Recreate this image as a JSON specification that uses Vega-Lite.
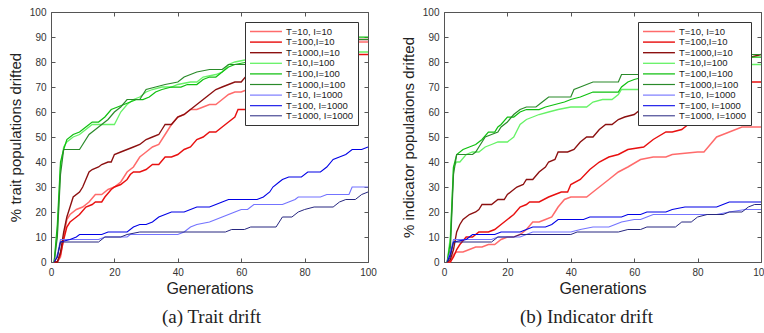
{
"$schema":"https://vega.github.io/schema/vega-lite/v6.json",
"padding":{"left":7,"top":6,"right":0,"bottom":0},
"background":"white",
"config":{
 "font":"Liberation Sans",
 "view":{"stroke":"#555","strokeWidth":1},
 "axis":{"grid":false,"domain":false,"tickColor":"#555","tickSize":-4,"labelFontSize":10,"labelColor":"#333","labelPadding":9,"labelFont":"Liberation Sans","titleFont":"Liberation Sans","titleFontWeight":"normal","titleColor":"#222","labelFlush":false},
 "legend":{"orient":"top-right","offset":10,"fillColor":"white","strokeColor":"#333","padding":4,"symbolType":"M-1,0H6.1","symbolSize":81,"labelFont":"Liberation Sans","labelFontSize":9.5,"labelColor":"#222","labelOffset":26,"rowPadding":0.6,"symbolStrokeWidth":1.5},
 "title":{"font":"Liberation Serif","fontSize":19,"fontWeight":"normal","color":"#222","orient":"bottom","anchor":"middle","offset":12}
},
"datasets":{
"a":[
{"s":"T=10, I=10","g":1,"v":0},{"s":"T=10, I=10","g":2,"v":0},{"s":"T=10, I=10","g":3,"v":2},{"s":"T=10, I=10","g":4,"v":10},{"s":"T=10, I=10","g":5,"v":17},{"s":"T=10, I=10","g":6,"v":19},{"s":"T=10, I=10","g":8,"v":21},{"s":"T=10, I=10","g":10,"v":22},{"s":"T=10, I=10","g":12,"v":24},{"s":"T=10, I=10","g":14,"v":27},{"s":"T=10, I=10","g":16,"v":27},{"s":"T=10, I=10","g":18,"v":29},{"s":"T=10, I=10","g":20,"v":30},{"s":"T=10, I=10","g":22,"v":32},{"s":"T=10, I=10","g":24,"v":36},{"s":"T=10, I=10","g":26,"v":38},{"s":"T=10, I=10","g":28,"v":42},{"s":"T=10, I=10","g":30,"v":44},{"s":"T=10, I=10","g":32,"v":46},{"s":"T=10, I=10","g":34,"v":47},{"s":"T=10, I=10","g":36,"v":51},{"s":"T=10, I=10","g":38,"v":55},{"s":"T=10, I=10","g":40,"v":58},{"s":"T=10, I=10","g":42,"v":59},{"s":"T=10, I=10","g":44,"v":61},{"s":"T=10, I=10","g":46,"v":61},{"s":"T=10, I=10","g":48,"v":62},{"s":"T=10, I=10","g":50,"v":63},{"s":"T=10, I=10","g":52,"v":63},{"s":"T=10, I=10","g":54,"v":65},{"s":"T=10, I=10","g":56,"v":67},{"s":"T=10, I=10","g":58,"v":68},{"s":"T=10, I=10","g":60,"v":68},{"s":"T=10, I=10","g":62,"v":69},{"s":"T=10, I=10","g":65,"v":71},{"s":"T=10, I=10","g":70,"v":74},{"s":"T=10, I=10","g":75,"v":77},{"s":"T=10, I=10","g":80,"v":80},{"s":"T=10, I=10","g":85,"v":83},{"s":"T=10, I=10","g":90,"v":85},{"s":"T=10, I=10","g":95,"v":87},{"s":"T=10, I=10","g":97,"v":88},{"s":"T=10, I=10","g":100,"v":88},
{"s":"T=100,I=10","g":1,"v":0},{"s":"T=100,I=10","g":2,"v":0},{"s":"T=100,I=10","g":3,"v":3},{"s":"T=100,I=10","g":4,"v":9},{"s":"T=100,I=10","g":5,"v":14},{"s":"T=100,I=10","g":6,"v":16},{"s":"T=100,I=10","g":7,"v":17},{"s":"T=100,I=10","g":9,"v":19},{"s":"T=100,I=10","g":11,"v":22},{"s":"T=100,I=10","g":13,"v":23},{"s":"T=100,I=10","g":14,"v":24},{"s":"T=100,I=10","g":16,"v":24},{"s":"T=100,I=10","g":17,"v":26},{"s":"T=100,I=10","g":19,"v":29},{"s":"T=100,I=10","g":20,"v":30},{"s":"T=100,I=10","g":22,"v":31},{"s":"T=100,I=10","g":24,"v":33},{"s":"T=100,I=10","g":25,"v":35},{"s":"T=100,I=10","g":26,"v":36},{"s":"T=100,I=10","g":28,"v":36},{"s":"T=100,I=10","g":30,"v":37},{"s":"T=100,I=10","g":32,"v":39},{"s":"T=100,I=10","g":34,"v":39},{"s":"T=100,I=10","g":36,"v":42},{"s":"T=100,I=10","g":38,"v":42},{"s":"T=100,I=10","g":40,"v":43},{"s":"T=100,I=10","g":42,"v":45},{"s":"T=100,I=10","g":44,"v":46},{"s":"T=100,I=10","g":46,"v":49},{"s":"T=100,I=10","g":48,"v":50},{"s":"T=100,I=10","g":50,"v":52},{"s":"T=100,I=10","g":52,"v":52},{"s":"T=100,I=10","g":54,"v":54},{"s":"T=100,I=10","g":56,"v":56},{"s":"T=100,I=10","g":58,"v":58},{"s":"T=100,I=10","g":59,"v":61},{"s":"T=100,I=10","g":63,"v":61},{"s":"T=100,I=10","g":68,"v":65},{"s":"T=100,I=10","g":75,"v":70},{"s":"T=100,I=10","g":80,"v":73},{"s":"T=100,I=10","g":85,"v":76},{"s":"T=100,I=10","g":90,"v":79},{"s":"T=100,I=10","g":95,"v":82},{"s":"T=100,I=10","g":97,"v":83},{"s":"T=100,I=10","g":100,"v":83},
{"s":"T=1000,I=10","g":1,"v":0},{"s":"T=1000,I=10","g":2,"v":0},{"s":"T=1000,I=10","g":3,"v":4},{"s":"T=1000,I=10","g":4,"v":12},{"s":"T=1000,I=10","g":5,"v":18},{"s":"T=1000,I=10","g":6,"v":22},{"s":"T=1000,I=10","g":7,"v":26},{"s":"T=1000,I=10","g":9,"v":28},{"s":"T=1000,I=10","g":10,"v":30},{"s":"T=1000,I=10","g":11,"v":33},{"s":"T=1000,I=10","g":12,"v":36},{"s":"T=1000,I=10","g":13,"v":37},{"s":"T=1000,I=10","g":15,"v":38},{"s":"T=1000,I=10","g":16,"v":39},{"s":"T=1000,I=10","g":18,"v":40},{"s":"T=1000,I=10","g":19,"v":40},{"s":"T=1000,I=10","g":20,"v":43},{"s":"T=1000,I=10","g":22,"v":44},{"s":"T=1000,I=10","g":24,"v":45},{"s":"T=1000,I=10","g":26,"v":46},{"s":"T=1000,I=10","g":28,"v":47},{"s":"T=1000,I=10","g":29,"v":48},{"s":"T=1000,I=10","g":30,"v":49},{"s":"T=1000,I=10","g":32,"v":50},{"s":"T=1000,I=10","g":34,"v":51},{"s":"T=1000,I=10","g":35,"v":53},{"s":"T=1000,I=10","g":36,"v":55},{"s":"T=1000,I=10","g":38,"v":55},{"s":"T=1000,I=10","g":40,"v":58},{"s":"T=1000,I=10","g":42,"v":59},{"s":"T=1000,I=10","g":44,"v":61},{"s":"T=1000,I=10","g":46,"v":63},{"s":"T=1000,I=10","g":47,"v":64},{"s":"T=1000,I=10","g":49,"v":66},{"s":"T=1000,I=10","g":50,"v":67},{"s":"T=1000,I=10","g":52,"v":69},{"s":"T=1000,I=10","g":54,"v":70},{"s":"T=1000,I=10","g":56,"v":71},{"s":"T=1000,I=10","g":58,"v":72},{"s":"T=1000,I=10","g":60,"v":72},{"s":"T=1000,I=10","g":62,"v":75},{"s":"T=1000,I=10","g":65,"v":77},{"s":"T=1000,I=10","g":70,"v":80},{"s":"T=1000,I=10","g":75,"v":82},{"s":"T=1000,I=10","g":80,"v":84},{"s":"T=1000,I=10","g":85,"v":86},{"s":"T=1000,I=10","g":90,"v":87},{"s":"T=1000,I=10","g":95,"v":88},{"s":"T=1000,I=10","g":97,"v":89},{"s":"T=1000,I=10","g":100,"v":89},
{"s":"T=10,I=100","g":1,"v":0},{"s":"T=10,I=100","g":2,"v":12},{"s":"T=10,I=100","g":3,"v":38},{"s":"T=10,I=100","g":4,"v":46},{"s":"T=10,I=100","g":5,"v":48},{"s":"T=10,I=100","g":7,"v":50},{"s":"T=10,I=100","g":9,"v":51},{"s":"T=10,I=100","g":11,"v":53},{"s":"T=10,I=100","g":13,"v":55},{"s":"T=10,I=100","g":20,"v":55},{"s":"T=10,I=100","g":22,"v":60},{"s":"T=10,I=100","g":24,"v":63},{"s":"T=10,I=100","g":26,"v":65},{"s":"T=10,I=100","g":28,"v":66},{"s":"T=10,I=100","g":30,"v":68},{"s":"T=10,I=100","g":32,"v":69},{"s":"T=10,I=100","g":35,"v":70},{"s":"T=10,I=100","g":38,"v":70},{"s":"T=10,I=100","g":40,"v":71},{"s":"T=10,I=100","g":44,"v":72},{"s":"T=10,I=100","g":46,"v":72},{"s":"T=10,I=100","g":48,"v":74},{"s":"T=10,I=100","g":52,"v":75},{"s":"T=10,I=100","g":54,"v":76},{"s":"T=10,I=100","g":56,"v":79},{"s":"T=10,I=100","g":58,"v":80},{"s":"T=10,I=100","g":62,"v":81},{"s":"T=10,I=100","g":70,"v":82},{"s":"T=10,I=100","g":80,"v":83},{"s":"T=10,I=100","g":90,"v":84},{"s":"T=10,I=100","g":100,"v":84},
{"s":"T=100,I=100","g":1,"v":0},{"s":"T=100,I=100","g":2,"v":15},{"s":"T=100,I=100","g":3,"v":40},{"s":"T=100,I=100","g":4,"v":45},{"s":"T=100,I=100","g":5,"v":49},{"s":"T=100,I=100","g":7,"v":51},{"s":"T=100,I=100","g":9,"v":52},{"s":"T=100,I=100","g":11,"v":54},{"s":"T=100,I=100","g":13,"v":56},{"s":"T=100,I=100","g":15,"v":56},{"s":"T=100,I=100","g":17,"v":58},{"s":"T=100,I=100","g":19,"v":61},{"s":"T=100,I=100","g":21,"v":62},{"s":"T=100,I=100","g":23,"v":63},{"s":"T=100,I=100","g":25,"v":64},{"s":"T=100,I=100","g":27,"v":65},{"s":"T=100,I=100","g":29,"v":65},{"s":"T=100,I=100","g":31,"v":66},{"s":"T=100,I=100","g":33,"v":68},{"s":"T=100,I=100","g":35,"v":69},{"s":"T=100,I=100","g":38,"v":70},{"s":"T=100,I=100","g":41,"v":70},{"s":"T=100,I=100","g":43,"v":71},{"s":"T=100,I=100","g":46,"v":71},{"s":"T=100,I=100","g":48,"v":73},{"s":"T=100,I=100","g":50,"v":74},{"s":"T=100,I=100","g":52,"v":74},{"s":"T=100,I=100","g":54,"v":76},{"s":"T=100,I=100","g":56,"v":78},{"s":"T=100,I=100","g":58,"v":79},{"s":"T=100,I=100","g":62,"v":80},{"s":"T=100,I=100","g":70,"v":84},{"s":"T=100,I=100","g":80,"v":87},{"s":"T=100,I=100","g":90,"v":89},{"s":"T=100,I=100","g":95,"v":90},{"s":"T=100,I=100","g":100,"v":90},
{"s":"T=1000,I=100","g":1,"v":0},{"s":"T=1000,I=100","g":2,"v":10},{"s":"T=1000,I=100","g":3,"v":35},{"s":"T=1000,I=100","g":4,"v":45},{"s":"T=1000,I=100","g":9,"v":45},{"s":"T=1000,I=100","g":10,"v":47},{"s":"T=1000,I=100","g":12,"v":51},{"s":"T=1000,I=100","g":14,"v":53},{"s":"T=1000,I=100","g":16,"v":55},{"s":"T=1000,I=100","g":18,"v":57},{"s":"T=1000,I=100","g":20,"v":60},{"s":"T=1000,I=100","g":22,"v":62},{"s":"T=1000,I=100","g":24,"v":65},{"s":"T=1000,I=100","g":26,"v":65},{"s":"T=1000,I=100","g":28,"v":65},{"s":"T=1000,I=100","g":30,"v":69},{"s":"T=1000,I=100","g":33,"v":70},{"s":"T=1000,I=100","g":36,"v":71},{"s":"T=1000,I=100","g":40,"v":72},{"s":"T=1000,I=100","g":42,"v":74},{"s":"T=1000,I=100","g":44,"v":75},{"s":"T=1000,I=100","g":46,"v":76},{"s":"T=1000,I=100","g":50,"v":77},{"s":"T=1000,I=100","g":54,"v":77},{"s":"T=1000,I=100","g":56,"v":79},{"s":"T=1000,I=100","g":62,"v":79},{"s":"T=1000,I=100","g":70,"v":83},{"s":"T=1000,I=100","g":80,"v":86},{"s":"T=1000,I=100","g":90,"v":88},{"s":"T=1000,I=100","g":97,"v":89},{"s":"T=1000,I=100","g":100,"v":89},
{"s":"T=10, I=1000","g":1,"v":0},{"s":"T=10, I=1000","g":2,"v":3},{"s":"T=10, I=1000","g":3,"v":9},{"s":"T=10, I=1000","g":15,"v":9},{"s":"T=10, I=1000","g":17,"v":10},{"s":"T=10, I=1000","g":24,"v":10},{"s":"T=10, I=1000","g":25,"v":11},{"s":"T=10, I=1000","g":40,"v":11},{"s":"T=10, I=1000","g":42,"v":12},{"s":"T=10, I=1000","g":44,"v":14},{"s":"T=10, I=1000","g":46,"v":15},{"s":"T=10, I=1000","g":50,"v":16},{"s":"T=10, I=1000","g":52,"v":17},{"s":"T=10, I=1000","g":54,"v":18},{"s":"T=10, I=1000","g":56,"v":19},{"s":"T=10, I=1000","g":58,"v":20},{"s":"T=10, I=1000","g":60,"v":21},{"s":"T=10, I=1000","g":62,"v":21},{"s":"T=10, I=1000","g":64,"v":23},{"s":"T=10, I=1000","g":73,"v":23},{"s":"T=10, I=1000","g":75,"v":24},{"s":"T=10, I=1000","g":77,"v":25},{"s":"T=10, I=1000","g":78,"v":26},{"s":"T=10, I=1000","g":85,"v":26},{"s":"T=10, I=1000","g":87,"v":27},{"s":"T=10, I=1000","g":94,"v":27},{"s":"T=10, I=1000","g":95,"v":30},{"s":"T=10, I=1000","g":100,"v":30},
{"s":"T=100, I=1000","g":1,"v":0},{"s":"T=100, I=1000","g":2,"v":2},{"s":"T=100, I=1000","g":3,"v":8},{"s":"T=100, I=1000","g":6,"v":9},{"s":"T=100, I=1000","g":8,"v":10},{"s":"T=100, I=1000","g":9,"v":11},{"s":"T=100, I=1000","g":16,"v":11},{"s":"T=100, I=1000","g":18,"v":12},{"s":"T=100, I=1000","g":24,"v":12},{"s":"T=100, I=1000","g":26,"v":14},{"s":"T=100, I=1000","g":28,"v":15},{"s":"T=100, I=1000","g":30,"v":15},{"s":"T=100, I=1000","g":32,"v":16},{"s":"T=100, I=1000","g":34,"v":18},{"s":"T=100, I=1000","g":36,"v":19},{"s":"T=100, I=1000","g":38,"v":20},{"s":"T=100, I=1000","g":42,"v":20},{"s":"T=100, I=1000","g":44,"v":21},{"s":"T=100, I=1000","g":46,"v":22},{"s":"T=100, I=1000","g":50,"v":22},{"s":"T=100, I=1000","g":52,"v":23},{"s":"T=100, I=1000","g":54,"v":24},{"s":"T=100, I=1000","g":56,"v":25},{"s":"T=100, I=1000","g":65,"v":25},{"s":"T=100, I=1000","g":67,"v":26},{"s":"T=100, I=1000","g":69,"v":28},{"s":"T=100, I=1000","g":70,"v":30},{"s":"T=100, I=1000","g":72,"v":32},{"s":"T=100, I=1000","g":73,"v":33},{"s":"T=100, I=1000","g":75,"v":34},{"s":"T=100, I=1000","g":79,"v":34},{"s":"T=100, I=1000","g":81,"v":36},{"s":"T=100, I=1000","g":85,"v":36},{"s":"T=100, I=1000","g":87,"v":38},{"s":"T=100, I=1000","g":89,"v":41},{"s":"T=100, I=1000","g":91,"v":42},{"s":"T=100, I=1000","g":93,"v":43},{"s":"T=100, I=1000","g":95,"v":45},{"s":"T=100, I=1000","g":98,"v":45},{"s":"T=100, I=1000","g":100,"v":46},
{"s":"T=1000, I=1000","g":1,"v":0},{"s":"T=1000, I=1000","g":2,"v":2},{"s":"T=1000, I=1000","g":3,"v":8},{"s":"T=1000, I=1000","g":15,"v":8},{"s":"T=1000, I=1000","g":17,"v":10},{"s":"T=1000, I=1000","g":22,"v":10},{"s":"T=1000, I=1000","g":24,"v":11},{"s":"T=1000, I=1000","g":28,"v":12},{"s":"T=1000, I=1000","g":55,"v":12},{"s":"T=1000, I=1000","g":57,"v":13},{"s":"T=1000, I=1000","g":61,"v":13},{"s":"T=1000, I=1000","g":63,"v":14},{"s":"T=1000, I=1000","g":71,"v":14},{"s":"T=1000, I=1000","g":73,"v":18},{"s":"T=1000, I=1000","g":76,"v":18},{"s":"T=1000, I=1000","g":78,"v":20},{"s":"T=1000, I=1000","g":80,"v":21},{"s":"T=1000, I=1000","g":83,"v":22},{"s":"T=1000, I=1000","g":89,"v":22},{"s":"T=1000, I=1000","g":91,"v":24},{"s":"T=1000, I=1000","g":93,"v":25},{"s":"T=1000, I=1000","g":96,"v":25},{"s":"T=1000, I=1000","g":98,"v":27},{"s":"T=1000, I=1000","g":100,"v":28}
],
"b":[
{"s":"T=10, I=10","g":1,"v":0},{"s":"T=10, I=10","g":2,"v":0},{"s":"T=10, I=10","g":3,"v":3},{"s":"T=10, I=10","g":4,"v":4},{"s":"T=10, I=10","g":6,"v":4},{"s":"T=10, I=10","g":8,"v":5},{"s":"T=10, I=10","g":10,"v":6},{"s":"T=10, I=10","g":12,"v":6},{"s":"T=10, I=10","g":14,"v":7},{"s":"T=10, I=10","g":16,"v":7},{"s":"T=10, I=10","g":18,"v":9},{"s":"T=10, I=10","g":20,"v":10},{"s":"T=10, I=10","g":22,"v":10},{"s":"T=10, I=10","g":24,"v":11},{"s":"T=10, I=10","g":26,"v":13},{"s":"T=10, I=10","g":28,"v":16},{"s":"T=10, I=10","g":30,"v":16},{"s":"T=10, I=10","g":32,"v":17},{"s":"T=10, I=10","g":34,"v":18},{"s":"T=10, I=10","g":35,"v":20},{"s":"T=10, I=10","g":36,"v":22},{"s":"T=10, I=10","g":38,"v":25},{"s":"T=10, I=10","g":40,"v":26},{"s":"T=10, I=10","g":45,"v":26},{"s":"T=10, I=10","g":47,"v":28},{"s":"T=10, I=10","g":50,"v":31},{"s":"T=10, I=10","g":52,"v":33},{"s":"T=10, I=10","g":55,"v":36},{"s":"T=10, I=10","g":58,"v":38},{"s":"T=10, I=10","g":62,"v":41},{"s":"T=10, I=10","g":66,"v":42},{"s":"T=10, I=10","g":70,"v":42},{"s":"T=10, I=10","g":72,"v":43},{"s":"T=10, I=10","g":80,"v":44},{"s":"T=10, I=10","g":82,"v":44},{"s":"T=10, I=10","g":84,"v":47},{"s":"T=10, I=10","g":86,"v":50},{"s":"T=10, I=10","g":88,"v":51},{"s":"T=10, I=10","g":90,"v":52},{"s":"T=10, I=10","g":94,"v":54},{"s":"T=10, I=10","g":100,"v":54},
{"s":"T=100,I=10","g":1,"v":0},{"s":"T=100,I=10","g":2,"v":0},{"s":"T=100,I=10","g":3,"v":2},{"s":"T=100,I=10","g":4,"v":5},{"s":"T=100,I=10","g":5,"v":7},{"s":"T=100,I=10","g":7,"v":10},{"s":"T=100,I=10","g":9,"v":10},{"s":"T=100,I=10","g":11,"v":12},{"s":"T=100,I=10","g":14,"v":12},{"s":"T=100,I=10","g":16,"v":13},{"s":"T=100,I=10","g":18,"v":15},{"s":"T=100,I=10","g":20,"v":17},{"s":"T=100,I=10","g":22,"v":19},{"s":"T=100,I=10","g":24,"v":22},{"s":"T=100,I=10","g":26,"v":23},{"s":"T=100,I=10","g":27,"v":24},{"s":"T=100,I=10","g":30,"v":24},{"s":"T=100,I=10","g":33,"v":26},{"s":"T=100,I=10","g":35,"v":27},{"s":"T=100,I=10","g":37,"v":28},{"s":"T=100,I=10","g":39,"v":28},{"s":"T=100,I=10","g":40,"v":31},{"s":"T=100,I=10","g":43,"v":33},{"s":"T=100,I=10","g":46,"v":37},{"s":"T=100,I=10","g":49,"v":40},{"s":"T=100,I=10","g":52,"v":42},{"s":"T=100,I=10","g":55,"v":43},{"s":"T=100,I=10","g":58,"v":45},{"s":"T=100,I=10","g":63,"v":46},{"s":"T=100,I=10","g":66,"v":49},{"s":"T=100,I=10","g":70,"v":52},{"s":"T=100,I=10","g":72,"v":52},{"s":"T=100,I=10","g":75,"v":53},{"s":"T=100,I=10","g":78,"v":56},{"s":"T=100,I=10","g":82,"v":60},{"s":"T=100,I=10","g":88,"v":66},{"s":"T=100,I=10","g":94,"v":70},{"s":"T=100,I=10","g":97,"v":72},{"s":"T=100,I=10","g":100,"v":72},
{"s":"T=1000,I=10","g":1,"v":0},{"s":"T=1000,I=10","g":2,"v":1},{"s":"T=1000,I=10","g":3,"v":5},{"s":"T=1000,I=10","g":4,"v":12},{"s":"T=1000,I=10","g":5,"v":15},{"s":"T=1000,I=10","g":6,"v":17},{"s":"T=1000,I=10","g":8,"v":19},{"s":"T=1000,I=10","g":10,"v":20},{"s":"T=1000,I=10","g":11,"v":21},{"s":"T=1000,I=10","g":12,"v":23},{"s":"T=1000,I=10","g":15,"v":23},{"s":"T=1000,I=10","g":17,"v":25},{"s":"T=1000,I=10","g":19,"v":25},{"s":"T=1000,I=10","g":20,"v":27},{"s":"T=1000,I=10","g":22,"v":29},{"s":"T=1000,I=10","g":23,"v":30},{"s":"T=1000,I=10","g":25,"v":31},{"s":"T=1000,I=10","g":26,"v":33},{"s":"T=1000,I=10","g":28,"v":33},{"s":"T=1000,I=10","g":30,"v":36},{"s":"T=1000,I=10","g":32,"v":38},{"s":"T=1000,I=10","g":33,"v":40},{"s":"T=1000,I=10","g":35,"v":41},{"s":"T=1000,I=10","g":36,"v":44},{"s":"T=1000,I=10","g":39,"v":44},{"s":"T=1000,I=10","g":41,"v":45},{"s":"T=1000,I=10","g":43,"v":48},{"s":"T=1000,I=10","g":45,"v":50},{"s":"T=1000,I=10","g":47,"v":50},{"s":"T=1000,I=10","g":49,"v":53},{"s":"T=1000,I=10","g":51,"v":55},{"s":"T=1000,I=10","g":53,"v":55},{"s":"T=1000,I=10","g":55,"v":57},{"s":"T=1000,I=10","g":57,"v":58},{"s":"T=1000,I=10","g":60,"v":59},{"s":"T=1000,I=10","g":62,"v":61},{"s":"T=1000,I=10","g":63,"v":62},{"s":"T=1000,I=10","g":70,"v":68},{"s":"T=1000,I=10","g":80,"v":75},{"s":"T=1000,I=10","g":90,"v":80},{"s":"T=1000,I=10","g":97,"v":82},{"s":"T=1000,I=10","g":100,"v":83},
{"s":"T=10,I=100","g":1,"v":0},{"s":"T=10,I=100","g":2,"v":10},{"s":"T=10,I=100","g":3,"v":38},{"s":"T=10,I=100","g":4,"v":40},{"s":"T=10,I=100","g":5,"v":40},{"s":"T=10,I=100","g":7,"v":43},{"s":"T=10,I=100","g":9,"v":44},{"s":"T=10,I=100","g":11,"v":44},{"s":"T=10,I=100","g":13,"v":46},{"s":"T=10,I=100","g":15,"v":47},{"s":"T=10,I=100","g":17,"v":48},{"s":"T=10,I=100","g":20,"v":48},{"s":"T=10,I=100","g":22,"v":50},{"s":"T=10,I=100","g":24,"v":55},{"s":"T=10,I=100","g":26,"v":57},{"s":"T=10,I=100","g":28,"v":58},{"s":"T=10,I=100","g":30,"v":59},{"s":"T=10,I=100","g":33,"v":60},{"s":"T=10,I=100","g":36,"v":61},{"s":"T=10,I=100","g":40,"v":62},{"s":"T=10,I=100","g":45,"v":62},{"s":"T=10,I=100","g":47,"v":64},{"s":"T=10,I=100","g":50,"v":65},{"s":"T=10,I=100","g":53,"v":65},{"s":"T=10,I=100","g":55,"v":67},{"s":"T=10,I=100","g":56,"v":69},{"s":"T=10,I=100","g":62,"v":69},{"s":"T=10,I=100","g":70,"v":72},{"s":"T=10,I=100","g":80,"v":75},{"s":"T=10,I=100","g":90,"v":77},{"s":"T=10,I=100","g":97,"v":79},{"s":"T=10,I=100","g":100,"v":79},
{"s":"T=100,I=100","g":1,"v":0},{"s":"T=100,I=100","g":2,"v":8},{"s":"T=100,I=100","g":3,"v":38},{"s":"T=100,I=100","g":4,"v":43},{"s":"T=100,I=100","g":6,"v":45},{"s":"T=100,I=100","g":8,"v":46},{"s":"T=100,I=100","g":10,"v":47},{"s":"T=100,I=100","g":12,"v":49},{"s":"T=100,I=100","g":14,"v":52},{"s":"T=100,I=100","g":16,"v":52},{"s":"T=100,I=100","g":17,"v":54},{"s":"T=100,I=100","g":18,"v":55},{"s":"T=100,I=100","g":20,"v":58},{"s":"T=100,I=100","g":22,"v":58},{"s":"T=100,I=100","g":24,"v":60},{"s":"T=100,I=100","g":26,"v":61},{"s":"T=100,I=100","g":30,"v":61},{"s":"T=100,I=100","g":32,"v":62},{"s":"T=100,I=100","g":35,"v":63},{"s":"T=100,I=100","g":38,"v":64},{"s":"T=100,I=100","g":40,"v":65},{"s":"T=100,I=100","g":43,"v":66},{"s":"T=100,I=100","g":45,"v":67},{"s":"T=100,I=100","g":47,"v":68},{"s":"T=100,I=100","g":55,"v":68},{"s":"T=100,I=100","g":56,"v":70},{"s":"T=100,I=100","g":58,"v":72},{"s":"T=100,I=100","g":60,"v":73},{"s":"T=100,I=100","g":63,"v":74},{"s":"T=100,I=100","g":70,"v":76},{"s":"T=100,I=100","g":80,"v":78},{"s":"T=100,I=100","g":90,"v":80},{"s":"T=100,I=100","g":97,"v":82},{"s":"T=100,I=100","g":100,"v":82},
{"s":"T=1000,I=100","g":1,"v":0},{"s":"T=1000,I=100","g":2,"v":5},{"s":"T=1000,I=100","g":3,"v":35},{"s":"T=1000,I=100","g":4,"v":43},{"s":"T=1000,I=100","g":9,"v":43},{"s":"T=1000,I=100","g":10,"v":44},{"s":"T=1000,I=100","g":11,"v":46},{"s":"T=1000,I=100","g":13,"v":50},{"s":"T=1000,I=100","g":15,"v":51},{"s":"T=1000,I=100","g":17,"v":52},{"s":"T=1000,I=100","g":18,"v":54},{"s":"T=1000,I=100","g":20,"v":56},{"s":"T=1000,I=100","g":22,"v":59},{"s":"T=1000,I=100","g":24,"v":61},{"s":"T=1000,I=100","g":26,"v":62},{"s":"T=1000,I=100","g":29,"v":62},{"s":"T=1000,I=100","g":31,"v":64},{"s":"T=1000,I=100","g":33,"v":66},{"s":"T=1000,I=100","g":40,"v":66},{"s":"T=1000,I=100","g":41,"v":69},{"s":"T=1000,I=100","g":43,"v":70},{"s":"T=1000,I=100","g":45,"v":71},{"s":"T=1000,I=100","g":47,"v":72},{"s":"T=1000,I=100","g":55,"v":72},{"s":"T=1000,I=100","g":56,"v":75},{"s":"T=1000,I=100","g":62,"v":75},{"s":"T=1000,I=100","g":70,"v":77},{"s":"T=1000,I=100","g":80,"v":79},{"s":"T=1000,I=100","g":90,"v":81},{"s":"T=1000,I=100","g":97,"v":83},{"s":"T=1000,I=100","g":100,"v":83},
{"s":"T=10, I=1000","g":1,"v":0},{"s":"T=10, I=1000","g":2,"v":4},{"s":"T=10, I=1000","g":3,"v":9},{"s":"T=10, I=1000","g":15,"v":9},{"s":"T=10, I=1000","g":17,"v":10},{"s":"T=10, I=1000","g":24,"v":10},{"s":"T=10, I=1000","g":26,"v":11},{"s":"T=10, I=1000","g":28,"v":12},{"s":"T=10, I=1000","g":40,"v":12},{"s":"T=10, I=1000","g":43,"v":13},{"s":"T=10, I=1000","g":47,"v":14},{"s":"T=10, I=1000","g":52,"v":14},{"s":"T=10, I=1000","g":54,"v":15},{"s":"T=10, I=1000","g":56,"v":16},{"s":"T=10, I=1000","g":60,"v":17},{"s":"T=10, I=1000","g":62,"v":17},{"s":"T=10, I=1000","g":64,"v":18},{"s":"T=10, I=1000","g":66,"v":19},{"s":"T=10, I=1000","g":86,"v":19},{"s":"T=10, I=1000","g":90,"v":20},{"s":"T=10, I=1000","g":95,"v":21},{"s":"T=10, I=1000","g":100,"v":21},
{"s":"T=100, I=1000","g":1,"v":0},{"s":"T=100, I=1000","g":2,"v":3},{"s":"T=100, I=1000","g":3,"v":8},{"s":"T=100, I=1000","g":7,"v":9},{"s":"T=100, I=1000","g":9,"v":11},{"s":"T=100, I=1000","g":16,"v":11},{"s":"T=100, I=1000","g":18,"v":12},{"s":"T=100, I=1000","g":24,"v":12},{"s":"T=100, I=1000","g":26,"v":13},{"s":"T=100, I=1000","g":28,"v":14},{"s":"T=100, I=1000","g":32,"v":14},{"s":"T=100, I=1000","g":34,"v":15},{"s":"T=100, I=1000","g":36,"v":17},{"s":"T=100, I=1000","g":44,"v":17},{"s":"T=100, I=1000","g":46,"v":18},{"s":"T=100, I=1000","g":56,"v":18},{"s":"T=100, I=1000","g":58,"v":19},{"s":"T=100, I=1000","g":62,"v":19},{"s":"T=100, I=1000","g":64,"v":20},{"s":"T=100, I=1000","g":70,"v":20},{"s":"T=100, I=1000","g":72,"v":21},{"s":"T=100, I=1000","g":76,"v":22},{"s":"T=100, I=1000","g":86,"v":22},{"s":"T=100, I=1000","g":88,"v":23},{"s":"T=100, I=1000","g":90,"v":24},{"s":"T=100, I=1000","g":100,"v":24},
{"s":"T=1000, I=1000","g":1,"v":0},{"s":"T=1000, I=1000","g":2,"v":2},{"s":"T=1000, I=1000","g":3,"v":8},{"s":"T=1000, I=1000","g":15,"v":8},{"s":"T=1000, I=1000","g":17,"v":10},{"s":"T=1000, I=1000","g":22,"v":10},{"s":"T=1000, I=1000","g":24,"v":11},{"s":"T=1000, I=1000","g":40,"v":11},{"s":"T=1000, I=1000","g":42,"v":12},{"s":"T=1000, I=1000","g":55,"v":12},{"s":"T=1000, I=1000","g":58,"v":13},{"s":"T=1000, I=1000","g":62,"v":13},{"s":"T=1000, I=1000","g":64,"v":14},{"s":"T=1000, I=1000","g":73,"v":14},{"s":"T=1000, I=1000","g":75,"v":16},{"s":"T=1000, I=1000","g":78,"v":16},{"s":"T=1000, I=1000","g":80,"v":18},{"s":"T=1000, I=1000","g":83,"v":19},{"s":"T=1000, I=1000","g":88,"v":19},{"s":"T=1000, I=1000","g":90,"v":20},{"s":"T=1000, I=1000","g":94,"v":20},{"s":"T=1000, I=1000","g":96,"v":22},{"s":"T=1000, I=1000","g":98,"v":23},{"s":"T=1000, I=1000","g":100,"v":23}
]
},
"spacing":76,
"bounds":"flush",
"hconcat":[
{
 "width":317,"height":250,
 "data":{"name":"a"},
 "title":{"text":"(a) Trait drift","dx":2},
 "layer":[
  {"mark":{"type":"line"},
   "encoding":{
    "x":{"field":"g","type":"quantitative","scale":{"domain":[0,100],"nice":false},"axis":{"values":[0,20,40,60,80,100],"title":"Generations","titleFontSize":16,"titlePadding":3}},
    "y":{"field":"v","type":"quantitative","scale":{"domain":[0,100],"nice":false},"axis":{"values":[0,10,20,30,40,50,60,70,80,90,100],"title":"% trait populations drifted","titleFontSize":15,"titlePadding":6}},
    "color":{"field":"s","type":"nominal","scale":{"domain":["T=10, I=10","T=100,I=10","T=1000,I=10","T=10,I=100","T=100,I=100","T=1000,I=100","T=10, I=1000","T=100, I=1000","T=1000, I=1000"],"range":["#ff6b6b","#e81010","#8c1010","#66f266","#10c010","#2a8a2a","#7373ff","#0000e6","#262680"]},"legend":{"title":null}},
    "strokeWidth":{"field":"s","type":"nominal","scale":{"domain":["T=10, I=10","T=100,I=10","T=1000,I=10","T=10,I=100","T=100,I=100","T=1000,I=100","T=10, I=1000","T=100, I=1000","T=1000, I=1000"],"range":[1.5,1,1,1.5,1,1,1.5,1,1]},"legend":{"title":null}}
   }},
  {"mark":{"type":"line","opacity":0},
   "encoding":{
    "x":{"field":"g","type":"quantitative","axis":{"orient":"top","values":[0,20,40,60,80,100],"labels":false,"title":null}},
    "y":{"field":"v","type":"quantitative","axis":{"orient":"right","values":[0,10,20,30,40,50,60,70,80,90,100],"labels":false,"title":null}}
   }}
 ],
 "resolve":{"axis":{"x":"independent","y":"independent"}}
},
{
 "width":317,"height":250,
 "data":{"name":"b"},
 "title":{"text":"(b) Indicator drift","dx":-16},
 "layer":[
  {"mark":{"type":"line"},
   "encoding":{
    "x":{"field":"g","type":"quantitative","scale":{"domain":[0,100],"nice":false},"axis":{"values":[0,20,40,60,80,100],"title":"Generations","titleFontSize":16,"titlePadding":3}},
    "y":{"field":"v","type":"quantitative","scale":{"domain":[0,100],"nice":false},"axis":{"values":[0,10,20,30,40,50,60,70,80,90,100],"title":"% indicator populations drifted","titleFontSize":15,"titlePadding":6}},
    "color":{"field":"s","type":"nominal","scale":{"domain":["T=10, I=10","T=100,I=10","T=1000,I=10","T=10,I=100","T=100,I=100","T=1000,I=100","T=10, I=1000","T=100, I=1000","T=1000, I=1000"],"range":["#ff6b6b","#e81010","#8c1010","#66f266","#10c010","#2a8a2a","#7373ff","#0000e6","#262680"]},"legend":{"title":null}},
    "strokeWidth":{"field":"s","type":"nominal","scale":{"domain":["T=10, I=10","T=100,I=10","T=1000,I=10","T=10,I=100","T=100,I=100","T=1000,I=100","T=10, I=1000","T=100, I=1000","T=1000, I=1000"],"range":[1.5,1,1,1.5,1,1,1.5,1,1]},"legend":{"title":null}}
   }},
  {"mark":{"type":"line","opacity":0},
   "encoding":{
    "x":{"field":"g","type":"quantitative","axis":{"orient":"top","values":[0,20,40,60,80,100],"labels":false,"title":null}},
    "y":{"field":"v","type":"quantitative","axis":{"orient":"right","values":[0,10,20,30,40,50,60,70,80,90,100],"labels":false,"title":null}}
   }}
 ],
 "resolve":{"axis":{"x":"independent","y":"independent"}}
}
],
"resolve":{"scale":{"color":"independent","strokeWidth":"independent"},"legend":{"color":"independent","strokeWidth":"independent"}}
}
